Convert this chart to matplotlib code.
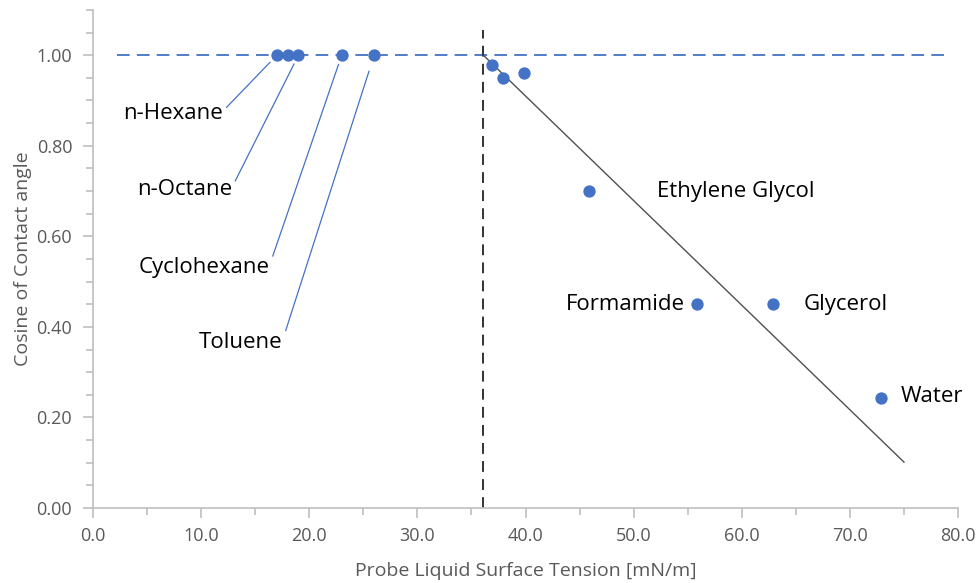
import numpy as np
import matplotlib.pyplot as plt
from matplotlib.ticker import MultipleLocator, FormatStrFormatter

plt.rcParams['font.family'] = ['Open Sans', 'DejaVu Sans']

# Non-polar liquids that wet completely (cos = 1)
wet_tension = [17.0, 18.0, 19.0, 23.0, 26.0]
wet_cos = [1.0, 1.0, 1.0, 1.0, 1.0]

# Partially wetting liquids
part_tension = [36.9, 37.9, 39.9, 45.9, 55.9, 62.9, 72.9]
part_cos = [0.978, 0.949, 0.960, 0.700, 0.450, 0.450, 0.243]

# labels on the left side (index into wet_tension)
left_names = ['n-Hexane', 'n-Octane', 'Cyclohexane', 'Toluene']
left_idx = [0, 2, 3, 4]
left_offsets = [(-39, 42), (-48, 97), (-52, 153), (-66, 207)]
left_shrink = [7, 7, 7, 12]

# labels on the right side (index into part_tension)
right_names = ['Ethylene Glycol', 'Formamide', 'Glycerol', 'Water']
right_idx = [3, 4, 5, 6]
right_offsets = [(49, 0), (-9, 0), (22, 0), (14, 1)]
right_ha = ['left', 'right', 'left', 'left']

# Zisman fit: critical surface tension and slope
gamma_c = 36.1
slope = -0.0231
fit_end = 75.0

blue = '#4472C4'
grey = '#595959'

fig = plt.figure(figsize=(9.79, 5.83), dpi=100)
ax = fig.add_axes([0.095, 0.1286, 0.8836, 0.8544])

ax.axhline(1.0, xmin=2.2 / 80, xmax=78.8 / 80, color=blue, lw=1.3, ls=(0, (7, 4)))
ax.plot([gamma_c, gamma_c], [0, 1.055], color='#222222', lw=1.3, ls=(0, (6, 4)))
fx = np.array([gamma_c, fit_end])
ax.plot(fx, 1.0 + slope * (fx - gamma_c), color='#505050', lw=1.0)

ax.scatter(wet_tension, wet_cos, s=62, color=blue, zorder=3)
ax.scatter(part_tension, part_cos, s=62, color=blue, zorder=3)

for name, i, off, sh in zip(left_names, left_idx, left_offsets, left_shrink):
    ax.annotate(name, (wet_tension[i], wet_cos[i]), xytext=(off[0], -off[1]),
                textcoords='offset points', ha='right', va='center', fontsize=16,
                arrowprops=dict(arrowstyle='-', color=blue, lw=0.9,
                                shrinkA=1, shrinkB=sh, relpos=(1, 0.6)))

for name, i, off, ha in zip(right_names, right_idx, right_offsets, right_ha):
    ax.annotate(name, (part_tension[i], part_cos[i]), xytext=off,
                textcoords='offset points', ha=ha, va='center', fontsize=16)

ax.set_xlim(0, 80)
ax.set_ylim(0, 1.1)
ax.xaxis.set_major_locator(MultipleLocator(10))
ax.xaxis.set_minor_locator(MultipleLocator(5))
ax.yaxis.set_major_locator(MultipleLocator(0.2))
ax.yaxis.set_minor_locator(MultipleLocator(0.05))
ax.xaxis.set_major_formatter(FormatStrFormatter('%.1f'))
ax.yaxis.set_major_formatter(FormatStrFormatter('%.2f'))

for s in ['top', 'right']:
    ax.spines[s].set_visible(False)
for s in ['left', 'bottom']:
    ax.spines[s].set_color('#BFBFBF')
    ax.spines[s].set_linewidth(1.2)
ax.tick_params(which='both', color='#BFBFBF', labelcolor=grey, labelsize=13, width=1.2)
ax.tick_params(which='major', length=7)
ax.tick_params(which='minor', length=5)
ax.tick_params(axis='y', pad=8)
ax.tick_params(axis='x', pad=7)

ax.set_xlabel('Probe Liquid Surface Tension [mN/m]', color=grey, fontsize=14, labelpad=12)
ax.set_ylabel('Cosine of Contact angle', color=grey, fontsize=14, labelpad=3)

fig.savefig('out.png', dpi=100)
